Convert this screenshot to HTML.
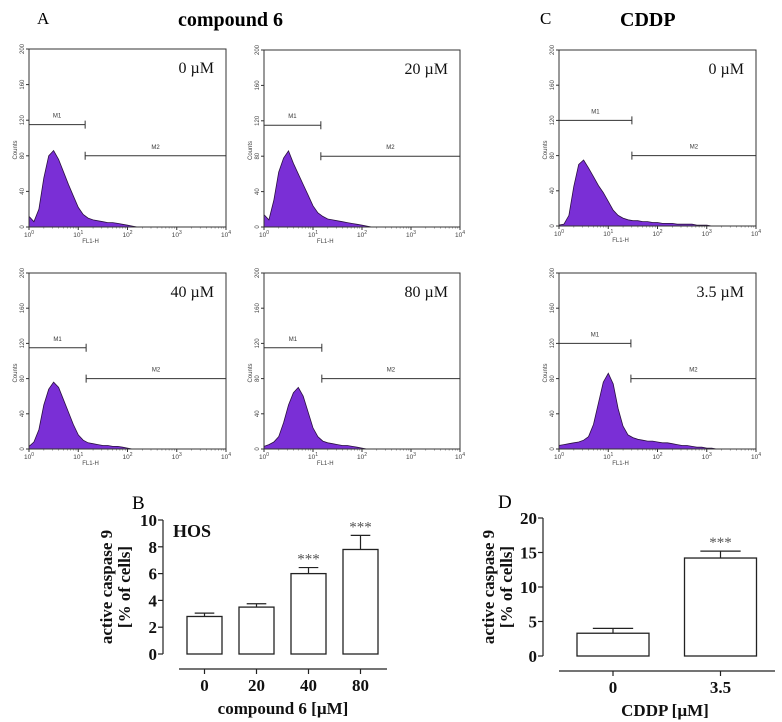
<!DOCTYPE html>
<html><head><meta charset="utf-8"><style>
html,body{margin:0;padding:0;background:#fff;}
svg{display:block;font-family:"Liberation Serif",serif;}
</style></head><body>
<svg id="fig" width="782" height="722" viewBox="0 0 782 722">
<text x="37" y="24" font-size="17">A</text>
<text x="178" y="26" font-size="20" font-weight="bold">compound 6</text>
<text x="540" y="24" font-size="17">C</text>
<text x="620" y="26" font-size="20" font-weight="bold">CDDP</text>
<text x="132" y="509" font-size="19">B</text>
<text x="498" y="508" font-size="19">D</text>
</svg>
<script>
// ---- histogram data (counts at log10 FL1-H = 0,0.1,...,4.0) ----
const histP1 = [12,6,20,55,80,86,76,62,48,35,22,14,10,8,7,6,5,5,4,3,2,1,0,0,0,0,0,0,0,0,0,0,0,0,0,0,0,0,0,0,0];
const histP2 = [14,8,30,62,78,86,72,60,48,36,24,16,12,9,8,7,6,5,4,3,2,1,0,0,0,0,0,0,0,0,0,0,0,0,0,0,0,0,0,0,0];
const histP3 = [1,2,12,45,70,75,66,56,46,38,28,18,12,9,7,6,6,5,5,4,4,3,3,3,2,2,2,2,1,1,1,0,0,0,0,0,0,0,0,0,0];
const histP4 = [3,8,22,50,68,76,70,56,42,28,16,10,7,6,5,4,4,3,3,2,1,0,0,0,0,0,0,0,0,0,0,0,0,0,0,0,0,0,0,0,0];
const histP5 = [3,5,8,14,30,50,64,70,60,42,24,14,9,7,6,5,4,4,3,2,1,0,0,0,0,0,0,0,0,0,0,0,0,0,0,0,0,0,0,0,0];
const histP6 = [4,5,6,7,8,10,14,28,52,76,86,74,46,26,16,13,11,10,9,9,8,7,7,6,5,4,4,3,2,2,1,1,0,0,0,0,0,0,0,0,0];
const yTicksHist = [0,40,80,120,160,200];
const xTickExp = [0,1,2,3,4];
const doses = ["0 µM","20 µM","0 µM","40 µM","80 µM","3.5 µM"];
const markerM1 = [115,115,120,115,115,120];
const markerEnd = [1.14,1.16,1.48,1.16,1.18,1.46];
const markerM2 = [80,80,80,80,80,80];
// ---- bar chart B ----
const catsB = ["0","20","40","80"];
const valsB = [2.8,3.5,6.0,7.8];
const errB = [0.25,0.25,0.45,1.05];
const sigB = ["","","***","***"];
const ticksB = [0,2,4,6,8,10];
// ---- bar chart D ----
const catsD = ["0","3.5"];
const valsD = [3.3,14.2];
const errD = [0.7,1.0];
const sigD = ["","***"];
const ticksD = [0,5,10,15,20];

const NS="http://www.w3.org/2000/svg";
const svg=document.getElementById('fig');
function mk(tag,attrs,parent,text){const e=document.createElementNS(NS,tag);for(const k in attrs)e.setAttribute(k,attrs[k]);if(text!==undefined)e.textContent=text;(parent||svg).appendChild(e);return e;}

const hists=[histP1,histP2,histP3,histP4,histP5,histP6];
const boxes=[[29,49,226,227],[264,50,460,227],[559,50,756,226],[29,273,226,449],[264,273,460,449],[559,273,756,449]];
hists.forEach((h,i)=>{
  const [x0,y0,x1,y1]=boxes[i];
  const g=mk('g',{});
  
  
  const sx=v=>x0+(x1-x0)*v/4, sy=c=>y1-(y1-y0)*c/200;
  let d='M'+sx(0)+','+sy(0);
  h.forEach((c,k)=>{d+=' L'+sx(k*0.1).toFixed(1)+','+sy(c).toFixed(1);});
  d+=' L'+sx(4)+','+sy(0)+' Z';
  const area=mk('path',{d:d,fill:'#7a2fd6',stroke:'#2a1040','stroke-width':0.8},g);
  
  
  mk('rect',{x:x0,y:y0,width:x1-x0,height:y1-y0,fill:'none',stroke:'#333','stroke-width':1},g);
  yTicksHist.forEach(t=>{
    const y=sy(t);
    mk('line',{x1:x0-3,y1:y,x2:x0,y2:y,stroke:'#333'},g);
    const tx=mk('text',{x:x0-5,y:y,'font-size':6,'font-family':'Liberation Sans',fill:'#444','text-anchor':'middle',transform:'rotate(-90 '+(x0-5)+' '+y+')'},g,String(t));
    
    
  });
  const cl=mk('text',{x:x0-12,y:(y0+y1)/2+12,'font-size':6,'font-family':'Liberation Sans',fill:'#444','text-anchor':'middle',transform:'rotate(-90 '+(x0-12)+' '+((y0+y1)/2+12)+')'},g,'Counts');
  
  
  xTickExp.forEach(e=>{
    const x=sx(e);
    mk('line',{x1:x,y1:y1,x2:x,y2:y1+3,stroke:'#333'},g);
    if(e<4)for(let m=2;m<10;m++){const xm=sx(e+Math.log10(m));mk('line',{x1:xm,y1:y1,x2:xm,y2:y1+1.5,stroke:'#555','stroke-width':0.6},g);}
    const t=mk('text',{x:x,y:y1+10,'font-size':6.5,'font-family':'Liberation Sans',fill:'#444','text-anchor':'middle'},g);
    
    
    t.textContent='10';
    mk('tspan',{dy:-3,'font-size':5},t,String(e));
  });
  const xl=mk('text',{x:sx(1.25),y:y1+16,'font-size':6,'font-family':'Liberation Sans',fill:'#444','text-anchor':'middle'},g,'FL1-H');
  
  
  const yM1=sy(markerM1[i]), xe=sx(markerEnd[i]), yM2=sy(markerM2[i]);
  const m1=mk('path',{d:`M${x0},${yM1} H${xe} M${xe},${yM1-4} V${yM1+4}`,stroke:'#333',fill:'none'},g);
  
  
  mk('text',{x:(x0+xe)/2,y:yM1-7,'font-size':6,'font-family':'Liberation Sans',fill:'#333','text-anchor':'middle'},g,'M1');
  const m2=mk('path',{d:`M${xe},${yM2-4} V${yM2+4} M${xe},${yM2} H${x1}`,stroke:'#333',fill:'none'},g);
  
  
  mk('text',{x:(xe+x1)/2,y:yM2-7,'font-size':6,'font-family':'Liberation Sans',fill:'#333','text-anchor':'middle'},g,'M2');
  const dl=mk('text',{x:x1-12,y:y0+24,'font-size':16,'text-anchor':'end',fill:'#111'},g,doses[i]);
  
  
});

function barChart(o){
  const g=mk('g',{});
  
  
  const sy=v=>o.y0-(o.y0-o.y1)*v/o.max;
  mk('line',{x1:o.ax,y1:sy(0),x2:o.ax,y2:sy(o.max),stroke:'#222','stroke-width':1.2},g);
  o.ticks.forEach(t=>{
    mk('line',{x1:o.ax-5,y1:sy(t),x2:o.ax,y2:sy(t),stroke:'#222','stroke-width':1.2},g);
    const tl=mk('text',{x:o.ax-6,y:sy(t)+6,'font-size':17,'font-weight':'bold','text-anchor':'end',fill:'#111'},g,String(t));
    
    
  });
  mk('line',{x1:o.xl0,y1:o.xaxisY,x2:o.xl1,y2:o.xaxisY,stroke:'#222','stroke-width':1.2},g);
  o.cats.forEach((c,i)=>{
    const cx=o.c0+i*o.step, w=o.bw;
    const top=sy(o.vals[i]), et=sy(o.vals[i]+o.err[i]);
    mk('line',{x1:cx,y1:top,x2:cx,y2:et,stroke:'#222','stroke-width':1.2},g);
    mk('line',{x1:cx-w*0.28,y1:et,x2:cx+w*0.28,y2:et,stroke:'#222','stroke-width':1.2},g);
    const r=mk('rect',{x:cx-w/2,y:top,width:w,height:sy(0)-top,fill:'#fff',stroke:'#222','stroke-width':1.3},g);
    
    
    if(o.sig[i]){const s=mk('text',{x:cx,y:et-4,'font-size':15,'text-anchor':'middle',fill:'#555'},g,o.sig[i]);
      
      }
    mk('line',{x1:cx,y1:o.xaxisY,x2:cx,y2:o.xaxisY+5,stroke:'#222','stroke-width':1.2},g);
    const cl=mk('text',{x:cx,y:o.xaxisY+22,'font-size':17,'font-weight':'bold','text-anchor':'middle',fill:'#111'},g,c);
    
    
  });
  const xt=mk('text',{x:o.titleX,y:o.xaxisY+45,'font-size':17,'font-weight':'bold','text-anchor':'middle',fill:'#111'},g,o.xtitle);
  
  
  const cy=(o.y0+o.y1)/2;
  const yt=mk('text',{x:0,y:0,'font-size':17,'font-weight':'bold','text-anchor':'middle',fill:'#111',transform:`translate(${o.ytx},${cy}) rotate(-90)`},g);
  
  
  mk('tspan',{x:0,dy:0},yt,'active caspase 9');
  mk('tspan',{x:0,dy:18},yt,'[% of cells]');
}
barChart({name:'bar-chart-b',ax:163,y0:654,y1:520,max:10,ticks:ticksB,cats:catsB,vals:valsB,err:errB,sig:sigB,c0:204.5,step:52,bw:35,xl0:179,xl1:387,xaxisY:669,titleX:283,xtitle:'compound 6 [µM]',ytx:112});
const hos=mk('text',{x:173,y:537,'font-size':18,'font-weight':'bold',fill:'#111'},null,'HOS');


barChart({name:'bar-chart-d',ax:543,y0:656,y1:518,max:20,ticks:ticksD,cats:catsD,vals:valsD,err:errD,sig:sigD,c0:613,step:107.5,bw:72,xl0:559,xl1:775,xaxisY:671,titleX:665,xtitle:'CDDP [µM]',ytx:494});
</script>
</body></html>
